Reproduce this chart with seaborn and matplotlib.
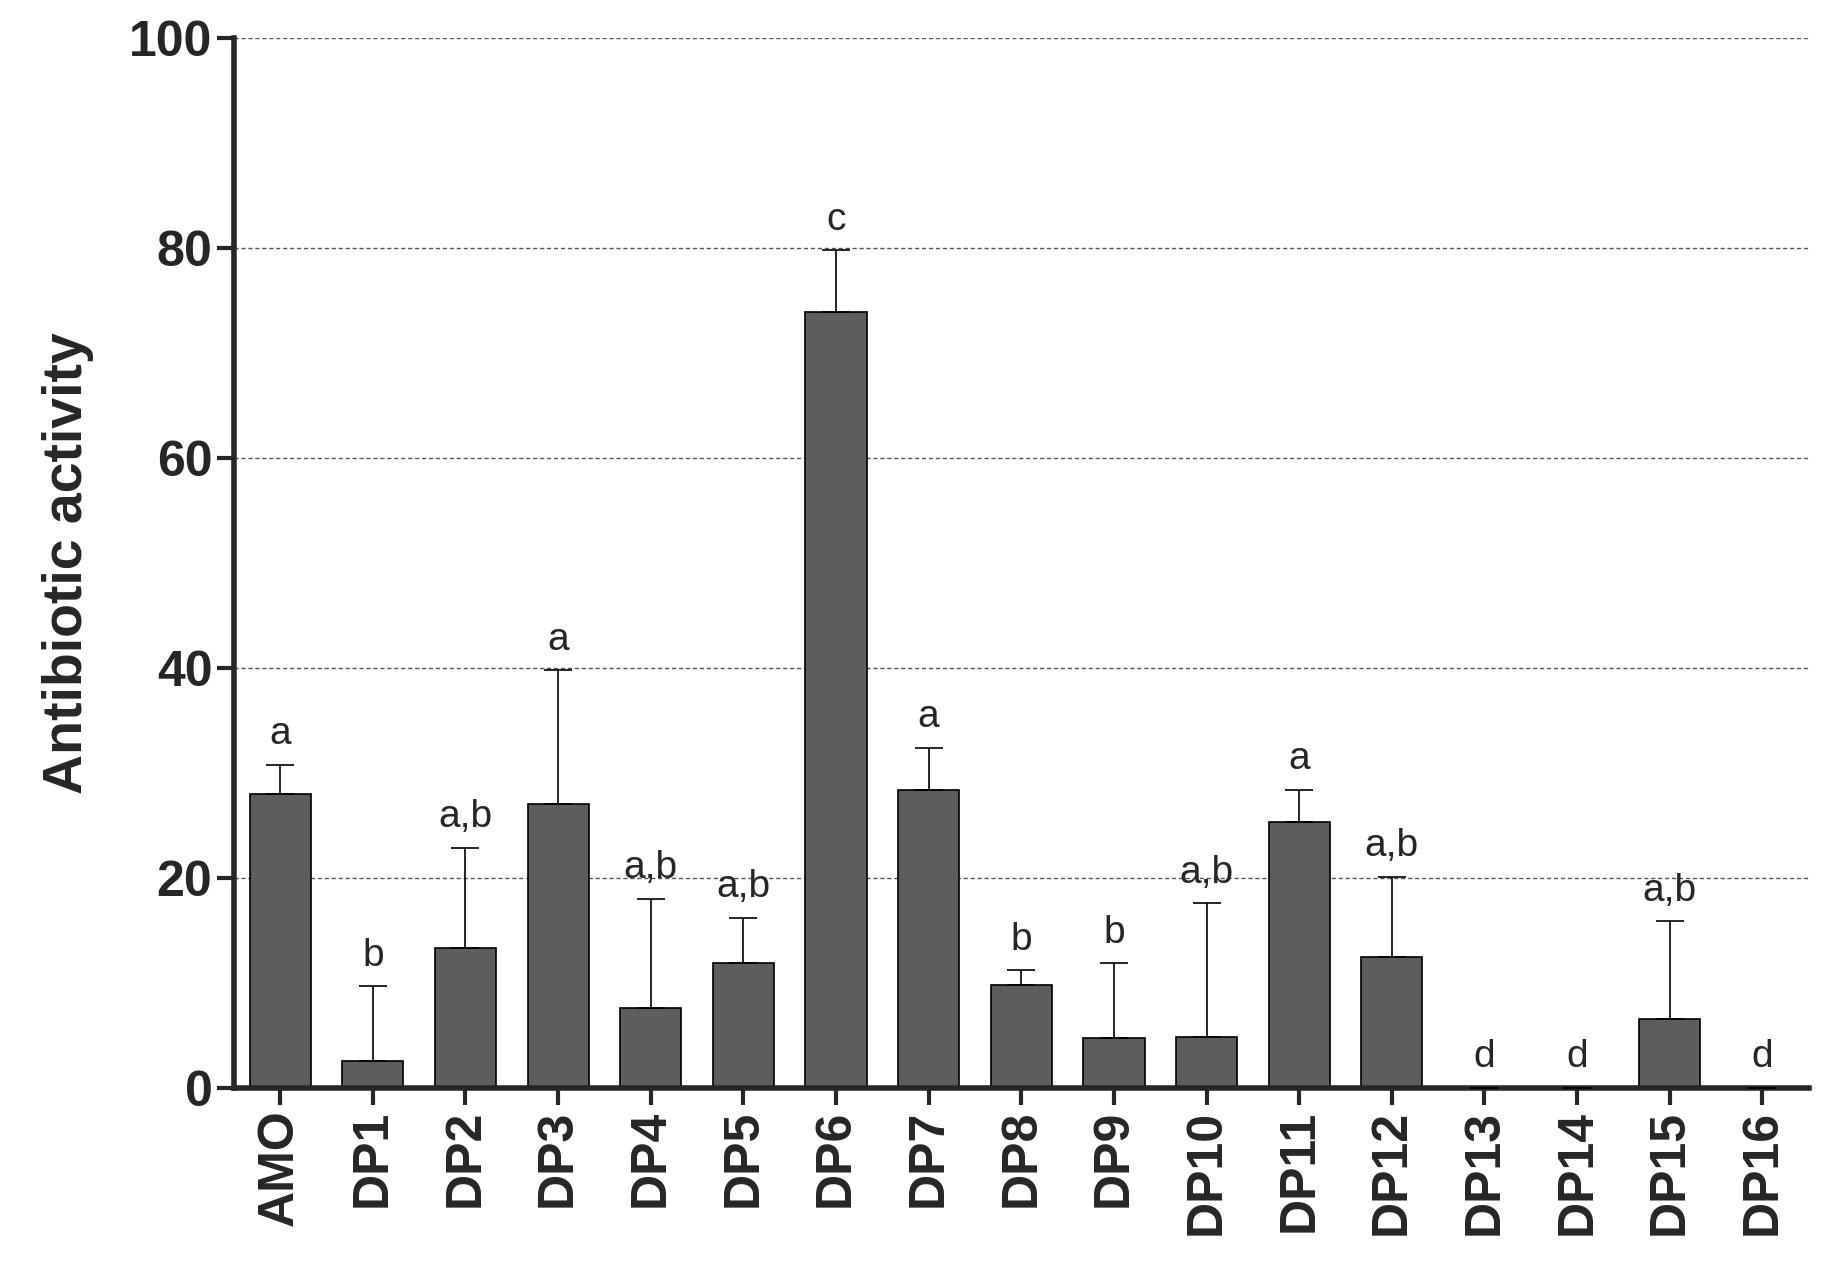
import seaborn as sns
import matplotlib.pyplot as plt
import numpy as np

# data
groups = ['AMO', 'DP1', 'DP2', 'DP3', 'DP4', 'DP5', 'DP6', 'DP7', 'DP8',
          'DP9', 'DP10', 'DP11', 'DP12', 'DP13', 'DP14', 'DP15', 'DP16']
means = [28.0, 2.6, 13.3, 27.1, 7.6, 11.9, 73.9, 28.4, 9.8,
         4.8, 4.9, 25.3, 12.5, 0, 0, 6.6, 0]
upper = [30.8, 9.7, 22.9, 39.8, 18.0, 16.2, 79.8, 32.4, 11.2,
         11.9, 17.6, 28.4, 20.1, 0, 0, 15.9, 0]
letters = ['a', 'b', 'a,b', 'a', 'a,b', 'a,b', 'c', 'a', 'b',
           'b', 'a,b', 'a', 'a,b', 'd', 'd', 'a,b', 'd']

sns.set_style('white')
plt.rcParams['font.family'] = ['Liberation Sans', 'DejaVu Sans']

fig = plt.figure(figsize=(18.27, 12.8), dpi=100)
ax = fig.add_axes([0.128, 0.15, 0.862, 0.82])

for y in [20, 40, 60, 80, 100]:
    ax.axhline(y, color='#555555', ls=(0, (3, 2)), lw=1, zorder=0)

sns.barplot(x=groups, y=means, color='#5d5d5d', edgecolor='black',
            linewidth=1.2, width=0.66, saturation=1, ax=ax, zorder=2)

x = np.arange(len(groups))
m = np.array(means)
err = np.array(upper) - m
ax.errorbar(x, m, yerr=[np.zeros_like(err), err], fmt='none',
            ecolor='black', elinewidth=1.2, capsize=10, capthick=1.2, zorder=3)

for xi, top, lab in zip(x, upper, letters):
    ax.text(xi, top + 1.2, lab, ha='center', va='bottom', fontsize=28)

ax.set_ylim(0, 100)
ax.set_xlim(-0.5, len(groups) - 0.5)
ax.set_yticks([0, 20, 40, 60, 80, 100])
ax.set_ylabel('Antibiotic activity', fontsize=40, fontweight='bold', labelpad=25)
ax.tick_params(axis='y', labelsize=36, width=3, length=12, direction='out', left=True)
ax.tick_params(axis='x', labelsize=36, width=3, length=12, direction='out',
               bottom=True, rotation=90)
for t in ax.get_xticklabels() + ax.get_yticklabels():
    t.set_fontweight('bold')
for s in ['top', 'right']:
    ax.spines[s].set_visible(False)
for s in ['left', 'bottom']:
    ax.spines[s].set_linewidth(4)

fig.savefig('out.png', dpi=100)
